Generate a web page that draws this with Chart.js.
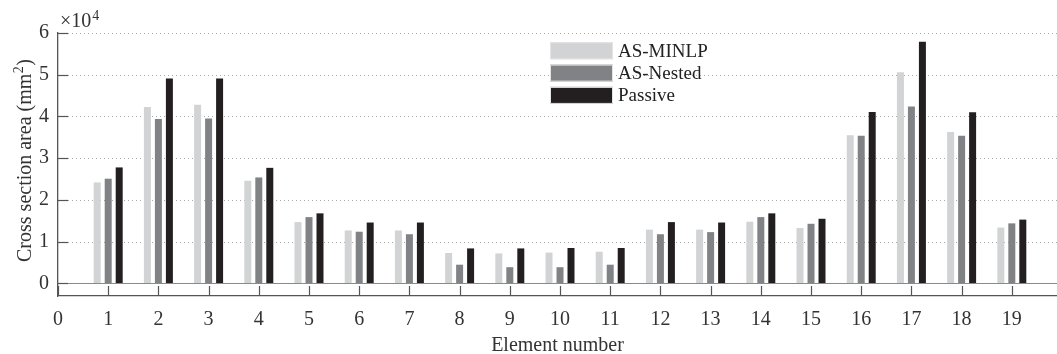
<!DOCTYPE html>
<html>
<head>
<meta charset="utf-8">
<script src="https://cdn.jsdelivr.net/npm/chart.js@4/dist/chart.umd.min.js"></script>
<style>
  html, body { margin: 0; padding: 0; background: #fff; }
  #wrap { width: 1057px; height: 354px; position: relative; }
</style>
</head>
<body>
<div id="wrap"><canvas id="c"></canvas></div>
<script>
// Element numbers along the x axis
const elements = [1, 2, 3, 4, 5, 6, 7, 8, 9, 10, 11, 12, 13, 14, 15, 16, 17, 18, 19];

// Cross section areas in mm^2 for each design
const seriesNames = ['AS-MINLP', 'AS-Nested', 'Passive'];
const asMinlp  = [24200, 42300, 42800, 24600, 14700, 12700, 12700, 7300, 7200, 7400, 7600, 12900, 12900, 14800, 13300, 35500, 50600, 36300, 13400];
const asNested = [25100, 39400, 39500, 25400, 15900, 12400, 11800, 4500, 3900, 3900, 4500, 11800, 12300, 15900, 14300, 35400, 42400, 35400, 14400];
const passive  = [27800, 49100, 49100, 27700, 16800, 14600, 14600, 8400, 8400, 8500, 8500, 14700, 14600, 16800, 15500, 41100, 57900, 41000, 15300];

// Axis ticks
const xTicks = [0, 1, 2, 3, 4, 5, 6, 7, 8, 9, 10, 11, 12, 13, 14, 15, 16, 17, 18, 19];
const yTicks = [0, 10000, 20000, 30000, 40000, 50000, 60000];
const yScaleFactor = 10000;

const seriesColors = ['#d1d3d4', '#808285', '#231f20'];
const FONT = '"Liberation Serif", "Times New Roman", serif';
const TEXT = '#333333';
const AXIS = '#555555';

const toPoints = vals => elements.map((e, i) => ({ x: e, y: vals[i] }));

// Dotted grid, zero baseline, inward tick marks, axis title, exponent label and legend
const decor = {
  id: 'decor',
  beforeDatasetsDraw(chart) {
    const { ctx, chartArea: a, scales: { y } } = chart;
    ctx.save();
    ctx.strokeStyle = '#a8a8a8';
    ctx.lineWidth = 1;
    ctx.setLineDash([1, 3]);
    yTicks.forEach(v => {
      if (v === 0) return;
      const py = Math.round(y.getPixelForValue(v)) + 0.5;
      ctx.beginPath();
      ctx.moveTo(a.left + 2, py);
      ctx.lineTo(a.right, py);
      ctx.stroke();
    });
    ctx.restore();
  },
  afterDatasetsDraw(chart) {
    const { ctx, chartArea: a, scales: { x, y } } = chart;
    ctx.save();
    // zero baseline
    const y0 = Math.round(y.getPixelForValue(0)) + 0.5;
    ctx.strokeStyle = '#8a8a8a';
    ctx.lineWidth = 1;
    ctx.beginPath();
    ctx.moveTo(a.left, y0);
    ctx.lineTo(a.right, y0);
    ctx.stroke();
    // inward ticks
    ctx.strokeStyle = AXIS;
    ctx.lineWidth = 1.2;
    yTicks.forEach(v => {
      const py = Math.round(y.getPixelForValue(v)) + 0.5;
      ctx.beginPath();
      ctx.moveTo(a.left, py);
      ctx.lineTo(a.left + 10, py);
      ctx.stroke();
    });
    xTicks.forEach(v => {
      const px = Math.round(x.getPixelForValue(v)) + 0.5;
      ctx.beginPath();
      ctx.moveTo(px, a.bottom);
      ctx.lineTo(px, a.bottom - 10);
      ctx.stroke();
    });
    ctx.restore();
  },
  afterDraw(chart) {
    const { ctx, chartArea: a } = chart;
    ctx.save();
    ctx.fillStyle = TEXT;
    ctx.textBaseline = 'alphabetic';
    ctx.textAlign = 'left';

    // y axis title with a raised exponent
    const main = 'Cross section area (mm', sup = '2', close = ')';
    ctx.font = '20px ' + FONT;
    const wMain = ctx.measureText(main).width;
    const wClose = ctx.measureText(close).width;
    ctx.font = '14px ' + FONT;
    const wSup = ctx.measureText(sup).width;
    const total = wMain + wSup + 1 + wClose;
    ctx.save();
    ctx.translate(31, (a.top + a.bottom) / 2 - 4);
    ctx.rotate(-Math.PI / 2);
    let u = -total / 2;
    ctx.font = '20px ' + FONT;
    ctx.fillText(main, u, 0);
    u += wMain;
    ctx.font = '14px ' + FONT;
    ctx.fillText(sup, u + 0.5, -8);
    u += wSup + 1;
    ctx.font = '20px ' + FONT;
    ctx.fillText(close, u, 0);
    ctx.restore();

    // exponent of the y axis
    ctx.font = '20px ' + FONT;
    ctx.fillText('\u00d710', a.left + 2, 27);
    const w = ctx.measureText('\u00d710').width;
    ctx.font = '14px ' + FONT;
    ctx.fillText('4', a.left + 2 + w + 1, 20);

    // legend
    const lx = 550, sw = 63, sh = 17, pitch = 22.3, top0 = 42.3;
    ctx.font = '19px ' + FONT;
    chart.data.datasets.forEach((ds, i) => {
      const ty = top0 + i * pitch;
      ctx.fillStyle = ds.backgroundColor;
      ctx.fillRect(lx, ty, sw, sh);
      ctx.strokeStyle = '#e4e4e4';
      ctx.lineWidth = 1;
      ctx.strokeRect(lx + 0.5, ty + 0.5, sw - 1, sh - 1);
      ctx.fillStyle = '#222222';
      ctx.fillText(ds.label, lx + sw + 5, ty + 14.5);
    });
    ctx.restore();
  }
};

const barStyle = { categoryPercentage: 0.657, barPercentage: 0.636, borderWidth: 0 };

new Chart(document.getElementById('c'), {
  type: 'bar',
  data: {
    datasets: [
      Object.assign({ label: seriesNames[0], data: toPoints(asMinlp),  backgroundColor: seriesColors[0] }, barStyle),
      Object.assign({ label: seriesNames[1], data: toPoints(asNested), backgroundColor: seriesColors[1] }, barStyle),
      Object.assign({ label: seriesNames[2], data: toPoints(passive),  backgroundColor: seriesColors[2] }, barStyle)
    ]
  },
  options: {
    responsive: true,
    maintainAspectRatio: false,
    animation: false,
    devicePixelRatio: 1,
    layout: { padding: { top: 33, right: 0, bottom: 0, left: 0 } },
    plugins: {
      legend: { display: false },
      tooltip: { enabled: false }
    },
    scales: {
      x: {
        type: 'linear',
        offset: false,
        min: 0,
        max: 19.9,
        afterBuildTicks: s => { s.ticks = xTicks.map(v => ({ value: v })); },
        afterFit: s => { s.height = 58; },
        grid: { display: false, drawTicks: false, offset: false },
        border: { display: true, color: AXIS, width: 1.3 },
        ticks: {
          font: { family: FONT, size: 20 },
          color: TEXT,
          padding: 12,
          maxRotation: 0,
          autoSkip: false,
          callback: v => String(v)
        },
        title: {
          display: true,
          text: 'Element number',
          font: { family: FONT, size: 20, lineHeight: 1 },
          color: TEXT,
          padding: { top: 0, bottom: -2 }
        }
      },
      y: {
        type: 'linear',
        min: -3000,
        max: 60000,
        afterBuildTicks: s => { s.ticks = yTicks.map(v => ({ value: v })); },
        afterFit: s => { s.width = 58; },
        grid: { display: false, drawTicks: false },
        border: { display: true, color: AXIS, width: 1.3 },
        ticks: {
          font: { family: FONT, size: 20 },
          color: TEXT,
          padding: 9,
          callback: v => String(v / yScaleFactor)
        }
      }
    }
  },
  plugins: [decor]
});
</script>
</body>
</html>
